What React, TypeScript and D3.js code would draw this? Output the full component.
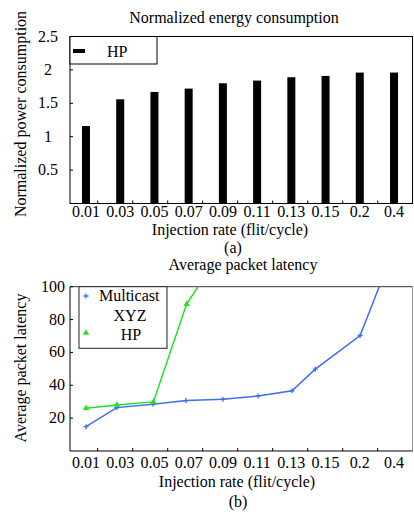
import React from "react";
import * as d3 from "d3";

const categories = ["0.01", "0.03", "0.05", "0.07", "0.09", "0.11", "0.13", "0.15", "0.2", "0.4"];
const energyHP = [1.16, 1.56, 1.67, 1.72, 1.8, 1.84, 1.89, 1.91, 1.96, 1.96];
const energyTicks = [0.5, 1, 1.5, 2, 2.5];

// latency series: x is the position in category units
const multicastX = [0, 0.9, 1.96, 2.92, 4, 5.03, 6.02, 6.7, 8.01, 9];
const multicastY = [14.8, 26.4, 28.5, 30.7, 31.5, 33.5, 36.6, 49.8, 70.3, 123];
const hpX = [0, 0.9, 1.97, 2.94, 4];
const hpY = [26, 28, 29.9, 89.4, 123];
const latencyTicks = [20, 40, 60, 80, 100];
const minorTicks = [1, 2, 3, 4, 5, 6, 7, 8, 9];

const font = "'Liberation Serif', 'Times New Roman', serif";
const blue = "#3d6ef0";
const green = "#22e022";

const left = 70;
const right = 412.5;

export default function App() {
  const xCat = d3.scalePoint<string>().domain(categories).range([86, 394]);
  const xIdx = d3.scaleLinear().domain([0, 9]).range([86, 394]);
  const xMinor = d3.scaleLinear().domain([0, 10]).range([62.7, 412.7]);
  const yE = d3.scaleLinear().domain([0, 2.5]).range([203.5, 36.5]);
  const yL = d3.scaleLinear().domain([0, 100]).range([451, 286.7]);

  const multi = multicastX.map((x, i) => [xIdx(x), yL(multicastY[i])] as [number, number]);
  const hp = hpX.map((x, i) => [xIdx(x), yL(hpY[i])] as [number, number]);
  const path = d3.line();
  const tri = d3.symbol(d3.symbolTriangle, 18)()!;

  return (
    <svg width={414} height={512} style={{ position: "absolute", left: 0, top: 0, background: "#fff" }} fontFamily={font}>
      <defs>
        <clipPath id="clipB">
          <rect x={left} y={yL(100)} width={right - left} height={yL(0) - yL(100)} />
        </clipPath>
      </defs>

      {/* (a) energy */}
      <text x={234} y={23} fontSize={16} textAnchor="middle">Normalized energy consumption</text>
      <text transform={`translate(26,114) rotate(-90)`} fontSize={16} textAnchor="middle">Normalized power consumption</text>

      {energyHP.map((v, i) => (
        <rect key={i} x={xCat(categories[i])! - 4} y={yE(v)} width={8} height={yE(0) - yE(v)} fill="#000" />
      ))}

      <rect x={left} y={yE(2.5)} width={right - left} height={yE(0) - yE(2.5)} fill="none" stroke="#000" strokeWidth={1} />
      {energyTicks.map((t) => (
        <g key={t}>
          <line x1={left} x2={left + 3} y1={yE(t)} y2={yE(t)} stroke="#000" />
          <text x={48} y={yE(t) + 5} fontSize={16} textAnchor="middle">{t}</text>
        </g>
      ))}
      {minorTicks.map((t) => (
        <line key={t} x1={xMinor(t)} x2={xMinor(t)} y1={yE(0)} y2={yE(0) - 3} stroke="#000" />
      ))}
      {categories.map((c) => (
        <text key={c} x={xCat(c)} y={217} fontSize={16} textAnchor="middle">{c}</text>
      ))}
      <text x={230} y={235} fontSize={16} textAnchor="middle">Injection rate (flit/cycle)</text>
      <text x={233} y={253} fontSize={16} textAnchor="middle">(a)</text>

      <rect x={left} y={yE(2.5)} width={87} height={27.5} fill="#fff" stroke="#000" strokeWidth={1} />
      <rect x={73} y={49} width={12} height={4} fill="#000" />
      <text x={107} y={57} fontSize={16}>HP</text>

      {/* (b) latency */}
      <text x={243} y={270} fontSize={16} textAnchor="middle">Average packet latency</text>
      <text transform={`translate(26,368) rotate(-90)`} fontSize={16} textAnchor="middle">Average packet latency</text>

      <line x1={left} x2={right} y1={yL(100)} y2={yL(100)} stroke="#333" />
      <line x1={right} x2={right} y1={yL(100)} y2={yL(0)} stroke="#999" />
      <line x1={left} x2={left} y1={yL(100)} y2={yL(0)} stroke="#000" />
      <line x1={left} x2={right} y1={yL(0)} y2={yL(0)} stroke="#000" />
      {latencyTicks.map((t) => (
        <g key={t}>
          <line x1={left} x2={left + 3} y1={yL(t)} y2={yL(t)} stroke="#000" />
          <text x={65} y={yL(t) + 5} fontSize={16} textAnchor="end">{t}</text>
        </g>
      ))}
      {minorTicks.map((t) => (
        <line key={t} x1={xMinor(t)} x2={xMinor(t)} y1={yL(0)} y2={yL(0) - 3} stroke="#000" />
      ))}
      {categories.map((c) => (
        <text key={c} x={xCat(c)} y={468} fontSize={16} textAnchor="middle">{c}</text>
      ))}
      <text x={237} y={487} fontSize={16} textAnchor="middle">Injection rate (flit/cycle)</text>
      <text x={238} y={507} fontSize={16} textAnchor="middle">(b)</text>

      <g clipPath="url(#clipB)">
        <path d={path(multi)!} fill="none" stroke={blue} strokeWidth={1.5} />
        {multi.map(([x, y], i) => (
          <path key={i} d={`M${x - 2.5},${y}h5M${x},${y - 2.5}v5`} stroke={blue} strokeWidth={1.3} />
        ))}
        <path d={path(hp)!} fill="none" stroke={green} strokeWidth={1.5} />
        {hp.map(([x, y], i) => (
          <path key={i} d={tri} transform={`translate(${x},${y})`} fill={green} />
        ))}
      </g>

      <rect x={79} y={286.7} width={88} height={61.6} fill="#fff" stroke="#222" strokeWidth={1} />
      <path d={`M83.5,296h5M86,293.5v5`} stroke={blue} strokeWidth={1.3} />
      <text x={99} y={301} fontSize={16}>Multicast</text>
      <text x={130} y={321} fontSize={16} textAnchor="middle">XYZ</text>
      <path d={tri} transform="translate(86,333)" fill={green} />
      <text x={131} y={340} fontSize={16} textAnchor="middle">HP</text>
    </svg>
  );
}
